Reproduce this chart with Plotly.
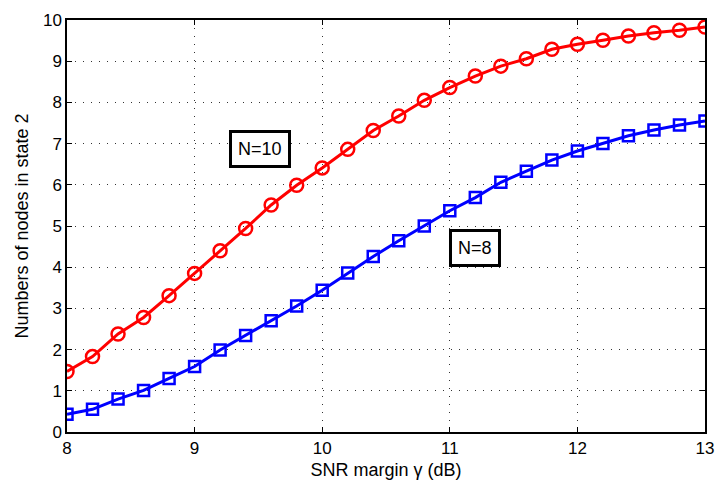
import plotly.graph_objects as go

x = [8.0 + 0.2 * i for i in range(26)]
n10 = [1.47, 1.83, 2.38, 2.78, 3.31, 3.85, 4.40, 4.94, 5.51, 5.99, 6.41, 6.86, 7.32, 7.67,
       8.05, 8.36, 8.64, 8.88, 9.06, 9.29, 9.41, 9.51, 9.61, 9.69, 9.75, 9.83]
n8 = [0.43, 0.55, 0.80, 1.01, 1.30, 1.59, 1.99, 2.34, 2.70, 3.06, 3.44, 3.86, 4.26, 4.64,
      5.00, 5.37, 5.69, 6.06, 6.33, 6.60, 6.82, 7.00, 7.19, 7.33, 7.45, 7.55]
xticks = [8, 9, 10, 11, 12, 13]
yticks = list(range(11))

FONT = "Liberation Sans, Arial"

fig = go.Figure()
fig.add_trace(go.Scatter(x=x, y=n10, mode="lines+markers", name="N=10",
                         line=dict(color="#ff0000", width=3),
                         marker=dict(symbol="circle-open", size=13, color="#ff0000",
                                     line=dict(width=2.5, color="#ff0000"))))
fig.add_trace(go.Scatter(x=x, y=n8, mode="lines+markers", name="N=8",
                         line=dict(color="#0000ff", width=3),
                         marker=dict(symbol="square-open", size=11, color="#0000ff",
                                     line=dict(width=2.5, color="#0000ff"))))

for tx, ty, txt in [(9.51, 6.86, "N=10"), (11.2, 4.47, "N=8")]:
    fig.add_annotation(x=tx, y=ty, text=txt, showarrow=False,
                       font=dict(family=FONT, size=18, color="black"),
                       bordercolor="black", borderwidth=3, borderpad=6, bgcolor="white")

axis_common = dict(showline=True, linecolor="black", linewidth=1.5, mirror="ticks",
                   ticks="inside", ticklen=5, tickcolor="black",
                   showgrid=True, gridcolor="#333333", griddash="1px,7px", gridwidth=1,
                   zeroline=False,
                   tickfont=dict(family=FONT, size=17, color="black"))

fig.update_xaxes(range=[8, 13], tickvals=xticks, ticktext=[str(t) for t in xticks],
                 title=dict(text="SNR margin γ (dB)", standoff=6,
                            font=dict(family=FONT, size=18, color="black")),
                 **axis_common)
fig.update_yaxes(range=[0, 10], tickvals=yticks, ticktext=[str(t) for t in yticks],
                 title=dict(text="Numbers of nodes in state 2", standoff=10,
                            font=dict(family=FONT, size=18, color="black")),
                 **axis_common)

fig.update_layout(width=725, height=493, margin=dict(l=67, r=15, t=11, b=61),
                  plot_bgcolor="white", paper_bgcolor="white", showlegend=False)

fig.write_html("out.html")
